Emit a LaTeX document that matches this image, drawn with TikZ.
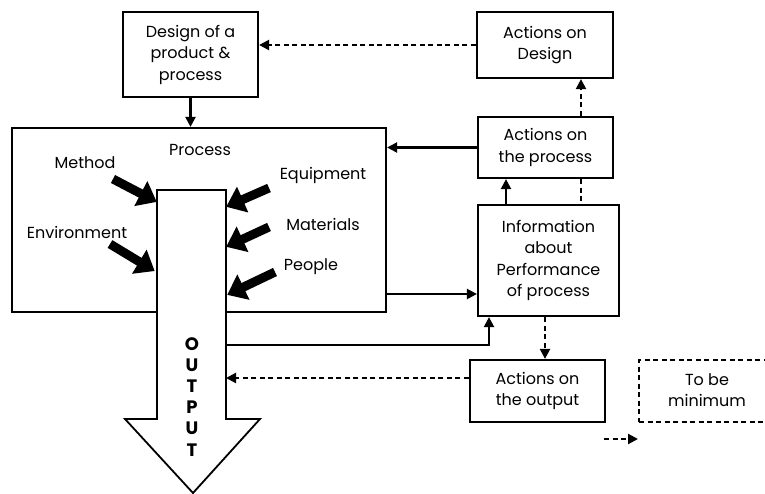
\documentclass[tikz,border=0pt]{standalone}
\usepackage{fontspec}
\setmainfont{Poppins}
\usetikzlibrary{arrows.meta}
\begin{document}
\begin{tikzpicture}[x=1pt,y=-1pt,
  box/.style={draw, line width=2.2pt, align=center, inner sep=0pt, font=\fontsize{16}{21.5}\selectfont},
  lbl/.style={font=\fontsize{16}{21.5}\selectfont, inner sep=0pt},
  conn/.style={line width=2.2pt, -{Triangle[length=10pt,width=10pt]}},
  dconn/.style={line width=2.2pt, dash pattern=on 5pt off 3.5pt, -{Triangle[length=10pt,width=10pt]}},
  dline/.style={line width=2.2pt, dash pattern=on 5pt off 3.5pt},
  fat/.style={line width=9pt, -{Triangle[length=18pt,width=27pt]}, shorten >=-2pt}
]
\useasboundingbox (0,0) rectangle (765,494);
% boxes
\node[box, minimum width=135pt, minimum height=85pt] (design) at (190.5,54.5) {Design of a\\product \&\\process};
\node[box, minimum width=374pt, minimum height=184pt] (proc) at (199,220) {};
\node[lbl] (proclbl) at (200,150) {Process};
\node[box, minimum width=136pt, minimum height=66pt] (adesign) at (545,45) {Actions on\\Design};
\node[box, minimum width=135pt, minimum height=61pt] (aproc) at (545.5,147.5) {Actions on\\the process};
\node[box, minimum width=141pt, minimum height=111pt] (info) at (548.5,260.5) {Information\\about\\Performance\\of process};
\node[box, minimum width=135pt, minimum height=62pt] (aout) at (537.5,391) {Actions on\\the output};
\node[box, dash pattern=on 5pt off 3.5pt, minimum width=140pt, minimum height=62pt, anchor=west] (legend) at (638,391) {};
\node[lbl, align=center] (legendtxt) at (707,390) {To be\\minimum};
% output arrow
\coordinate (sL) at (157,190);
\coordinate (sR) at (226,190);
\draw[line width=1.8pt, fill=white] (sL) -- (sR) -- (226,419) -- (260,419) -- (193,493) -- (125,419) -- (157,419) -- cycle;
\node[font=\bfseries\fontsize{18}{21.2}\selectfont, align=center, inner sep=0pt, anchor=north] (outlbl) at (192,337) {O\\U\\T\\P\\U\\T};
% factor labels
\node[lbl] (method) at (85,163) {Method};
\node[lbl] (equip) at (323,175) {Equipment};
\node[lbl] (mat) at (323,224) {Materials};
\node[lbl] (env) at (77,232) {Environment};
\node[lbl] (people) at (311,267) {People};
\coordinate (m1) at (113,179); \coordinate (m2) at (155,201);
\coordinate (e1) at (269,188); \coordinate (e2) at (228,206);
\coordinate (t1) at (269,227); \coordinate (t2) at (228,246);
\coordinate (v1) at (110,244); \coordinate (v2) at (153,270);
\coordinate (p1) at (275,272); \coordinate (p2) at (229,294);
\draw[fat] (m1) -- (m2);
\draw[fat] (e1) -- (e2);
\draw[fat] (t1) -- (t2);
\draw[fat] (v1) -- (v2);
\draw[fat] (p1) -- (p2);
% connectors
\draw[conn] (design.south) -- (proc.north -| design.south);
\draw[dconn] (adesign.west) -- (design.east |- adesign.west);
\draw[conn] (aproc.west) -- (proc.east |- aproc.west);
\draw[dconn] (aproc.north -| 581,0) -- (adesign.south -| 581,0);
\draw[dline] (aproc.south -| 581,0) -- (info.north -| 581,0);
\draw[conn] (info.north -| 506,0) -- (aproc.south -| 506,0);
\draw[conn] (proc.east |- 0,294) -- (info.west |- 0,294);
\coordinate (o1) at (226,345);
\draw[conn] (o1) -- (489,345) -- (info.south -| 489,0);
\draw[dconn] (info.south -| 545,0) -- (aout.north -| 545,0);
\coordinate (o2) at (226,378);
\draw[dconn] (aout.west |- 0,378) -- (o2);
\coordinate (la) at (604,439); \coordinate (lb) at (638,439);
\draw[dconn] (la) -- (lb);
\end{tikzpicture}
\end{document}
